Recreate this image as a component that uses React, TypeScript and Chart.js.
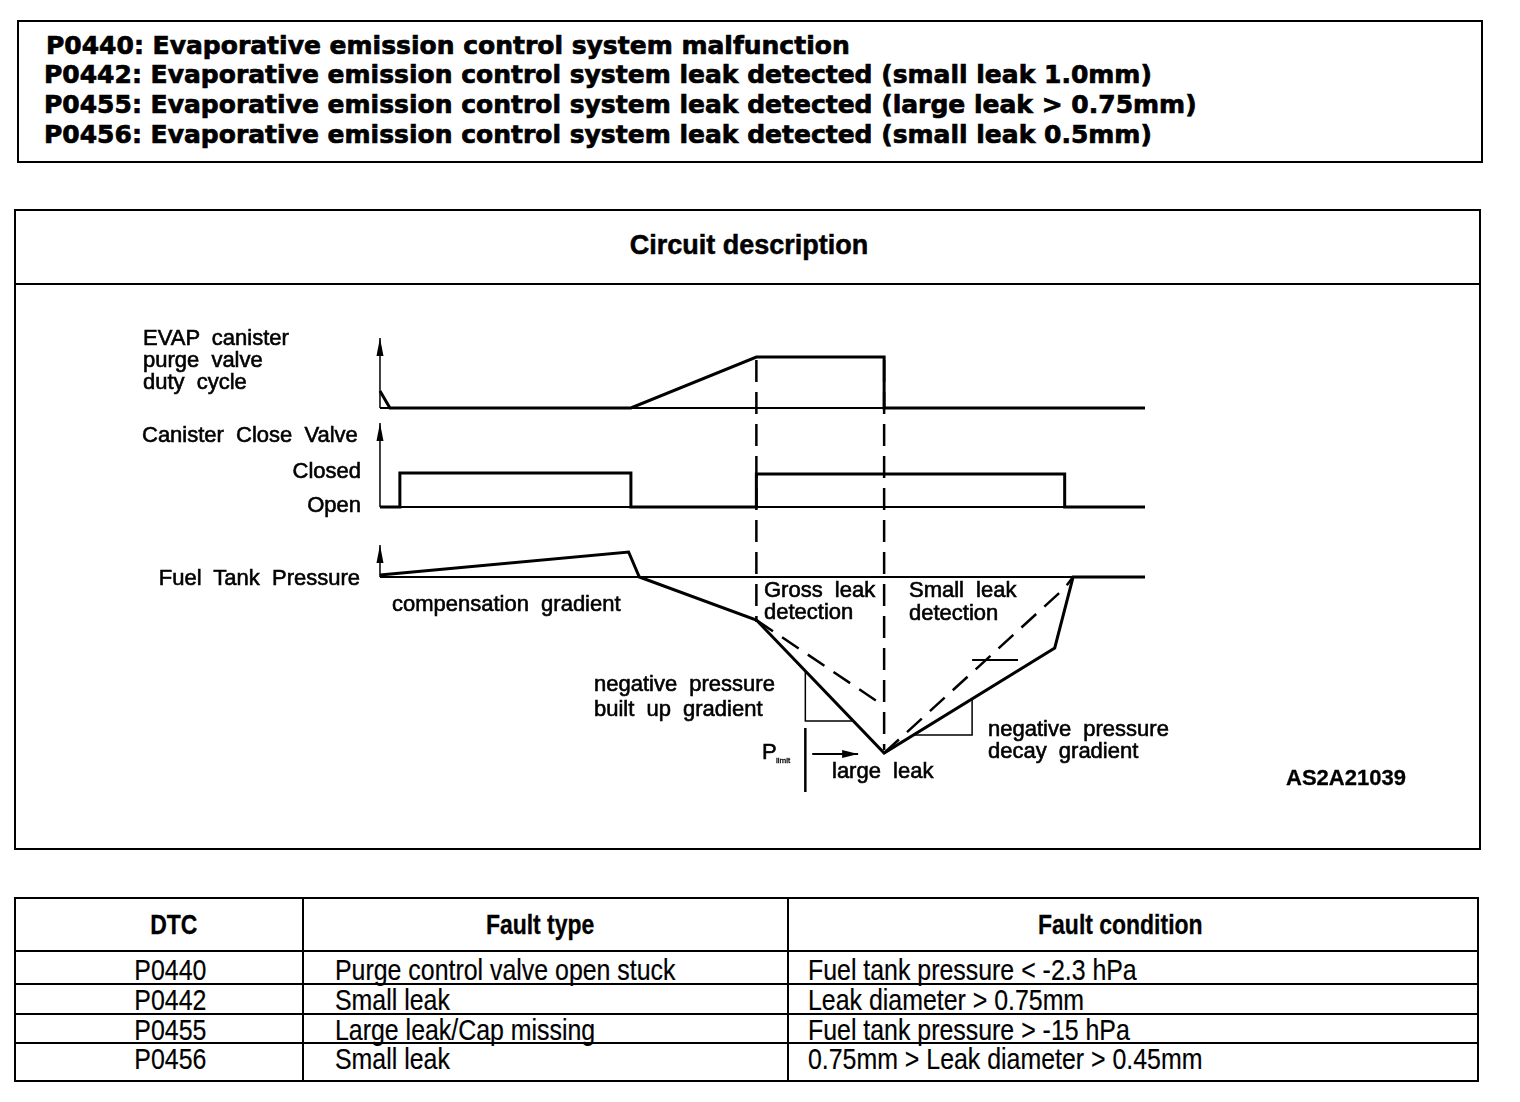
import React, { useEffect, useRef } from "react";
import { Chart, registerables } from "chart.js";
Chart.register(...registerables);

// ---------- DATA (time axis: 0 = signal axes, 100 = end of traces; level axis in arbitrary units) ----------
const headerLines = [
  "P0440: Evaporative emission control system malfunction",
  "P0442: Evaporative emission control system leak detected (small leak 1.0mm)",
  "P0455: Evaporative emission control system leak detected (large leak > 0.75mm)",
  "P0456: Evaporative emission control system leak detected (small leak 0.5mm)",
];

const timeStart = 0;
const timeEnd = 100;

// EVAP canister purge valve duty cycle
const purgeT = [0, 1.3, 32.8, 49.2, 65.9, 65.9, 100];
const purgeY = [45.8, 44.1, 44.1, 49.2, 49.2, 44.1, 44.1];
const purgeBase = 44.1;
const purgeAxisTop = 51.1;

// Canister close valve (Open / Closed)
const ccvT = [0, 2.6, 2.6, 32.8, 32.8, 49.2, 49.2, 89.5, 89.5, 100];
const ccvY = [34.2, 34.2, 37.6, 37.6, 34.2, 34.2, 37.5, 37.5, 34.2, 34.2];
const ccvBase = 34.2;
const ccvAxisTop = 42.6;

// Fuel tank pressure
const pressT = [0, 32.5, 33.9, 49.2, 65.9, 88.2, 90.6, 100];
const pressY = [27.4, 29.7, 27.2, 22.9, 9.6, 20.1, 27.2, 27.2];
const pressBase = 27.2;
const pressAxisTop = 30.4;
const grossDashT = [49.2, 65.9];
const grossDashY = [22.9, 14.3];
const smallDashT = [65.9, 89.5, 90.6];
const smallDashY = [9.6, 26.1, 27.2];

// phase markers (dashed verticals)
const phaseT = [49.2, 65.9];
const phaseTop = [48.9, 48.9];
const phaseBottom = [22.7, 9.9];

// gradient triangles / marks
const builtUpT = [55.6, 55.6, 61.7];
const builtUpY = [17.7, 12.8, 12.8];
const decayT = [69.7, 77.4, 77.4];
const decayY = [11.4, 11.4, 15.0];
const tickT = [77.4, 83.4];
const tickY = [18.9, 18.9];
const pLimitBarT = [55.6, 55.6];
const pLimitBarY = [12.1, 5.7];
const pLimitArrowT = [56.5, 62.5];
const pLimitArrowY = [9.5, 9.5];

// visible scale window
const xMin = -47.84;
const xMax = 143.79;
const yMin = 0;
const yMax = 56.4;

const tableHead = ["DTC", "Fault type", "Fault condition"];
const tableDTC = ["P0440", "P0442", "P0455", "P0456"];
const tableType = ["Purge control valve open stuck", "Small leak", "Large leak/Cap missing", "Small leak"];
const tableCond = [
  "Fuel tank pressure < -2.3 hPa",
  "Leak diameter > 0.75mm",
  "Fuel tank pressure > -15 hPa",
  "0.75mm > Leak diameter > 0.45mm",
];

// ---------- helpers ----------
const pts = (xs: number[], ys: number[]) => xs.map((x, i) => ({ x, y: ys[i] }));

function ds(data: { x: number; y: number }[], width = 3, dash: number[] = []) {
  return {
    data,
    showLine: true,
    borderColor: "#000",
    backgroundColor: "#000",
    borderWidth: width,
    borderDash: dash,
    pointRadius: 0,
    pointHoverRadius: 0,
    tension: 0,
    fill: false,
    borderJoinStyle: "miter" as const,
    borderCapStyle: "butt" as const,
  };
}

const arrowTips = [
  { x: timeStart, y: purgeAxisTop, dir: "up" },
  { x: timeStart, y: ccvAxisTop, dir: "up" },
  { x: timeStart, y: pressAxisTop, dir: "up" },
  { x: pLimitArrowT[1], y: pLimitArrowY[1], dir: "right" },
];

const arrowPlugin = {
  id: "arrowheads",
  afterDatasetsDraw(chart: any) {
    const { ctx, scales } = chart;
    ctx.save();
    ctx.fillStyle = "#000";
    arrowTips.forEach((a) => {
      const px = scales.x.getPixelForValue(a.x);
      const py = scales.y.getPixelForValue(a.y);
      ctx.beginPath();
      if (a.dir === "up") {
        ctx.moveTo(px, py);
        ctx.lineTo(px + 3.5, py + 18);
        ctx.lineTo(px - 3.5, py + 18);
      } else {
        ctx.moveTo(px, py);
        ctx.lineTo(px - 16, py - 4);
        ctx.lineTo(px - 16, py + 4);
      }
      ctx.closePath();
      ctx.fill();
    });
    ctx.restore();
  },
};

function Diagram() {
  const ref = useRef<HTMLCanvasElement>(null);
  useEffect(() => {
    if (!ref.current) return;
    const datasets: any[] = [
      ds(pts([timeStart, timeEnd], [purgeBase, purgeBase]), 2),
      ds(pts([timeStart, timeEnd], [ccvBase, ccvBase]), 2),
      ds(pts([timeStart, timeEnd], [pressBase, pressBase]), 2),
      ds(pts([timeStart, timeStart], [purgeBase, purgeAxisTop]), 1.5),
      ds(pts([timeStart, timeStart], [ccvBase, ccvAxisTop]), 1.5),
      ds(pts([timeStart, timeStart], [pressBase, pressAxisTop]), 1.5),
      ds(pts(purgeT, purgeY), 3),
      ds(pts(ccvT, ccvY), 3),
      ds(pts(pressT, pressY), 3),
      ds(pts(grossDashT, grossDashY), 2.5, [20, 11]),
      ds(pts(smallDashT, smallDashY), 2.5, [20, 11]),
      ...phaseT.map((t, i) => ds(pts([t, t], [phaseTop[i], phaseBottom[i]]), 2.5, [22, 10])),
      ds(pts(builtUpT, builtUpY), 1.5),
      ds(pts(decayT, decayY), 1.5),
      ds(pts(tickT, tickY), 2),
      ds(pts(pLimitBarT, pLimitBarY), 2.5),
      ds(pts(pLimitArrowT, pLimitArrowY), 2),
    ];
    const chart = new Chart(ref.current, {
      type: "scatter",
      data: { datasets },
      options: {
        animation: false,
        responsive: false,
        maintainAspectRatio: false,
        layout: { padding: 0 },
        events: [],
        plugins: { legend: { display: false }, tooltip: { enabled: false } },
        scales: {
          x: { type: "linear", min: xMin, max: xMax, display: false },
          y: { type: "linear", min: yMin, max: yMax, display: false },
        },
      },
      plugins: [arrowPlugin],
    });
    return () => chart.destroy();
  }, []);
  return (
    <canvas
      ref={ref}
      width={1466}
      height={564}
      style={{ position: "absolute", left: 14, top: 285, width: 1466, height: 564 }}
    />
  );
}

const lbl: React.CSSProperties = {
  position: "absolute",
  fontFamily: "'Liberation Sans', Arial, sans-serif",
  fontSize: 22,
  lineHeight: "22px",
  wordSpacing: 6,
  whiteSpace: "nowrap",
  color: "#000",
  WebkitTextStroke: "0.6px #000",
};

function L({ x, y, right, children, style }: any) {
  const s: React.CSSProperties = { ...lbl, top: y - 11, ...style };
  if (right !== undefined) {
    s.right = 1520 - right;
  } else s.left = x;
  return <div style={s}>{children}</div>;
}

const tableFont = "'Liberation Sans', Arial, sans-serif";

function Cell({ x, y, center, bold, children }: any) {
  const size = bold ? 28 : 30;
  const outer: React.CSSProperties = {
    position: "absolute",
    top: y - size / 2,
    whiteSpace: "nowrap",
    fontFamily: tableFont,
    fontWeight: bold ? 700 : 400,
    fontSize: size,
    lineHeight: `${size}px`,
    color: "#000",
    ...(center ? { left: x - 250, width: 500, textAlign: "center" } : { left: x }),
  };
  return (
    <div style={outer}>
      <span
        style={{
          display: "inline-block",
          transform: `scaleX(${bold ? 0.82 : 0.83})`,
          transformOrigin: center ? "center" : "left",
          WebkitTextStroke: bold ? "0.3px #000" : "0.2px #000",
        }}
      >
        {children}
      </span>
    </div>
  );
}

export default function App() {
  const hLines = [951, 984, 1014, 1043];
  const rowCenters = [970, 1000, 1030, 1059];
  const headCenters = [174, 540, 1120];
  return (
    <div style={{ position: "absolute", left: 0, top: 0, width: 1520, height: 1102, background: "#fff", overflow: "hidden" }}>
      {/* header box */}
      <div style={{ position: "absolute", left: 17, top: 20, width: 1466, height: 143, border: "2px solid #000", boxSizing: "border-box" }} />
      {headerLines.map((t, i) => (
        <div
          key={i}
          style={{
            position: "absolute",
            left: i === 0 ? 46 : 44,
            top: 45 + i * 29.7 - 14.5,
            fontFamily: "'DejaVu Sans', sans-serif",
            fontWeight: 700,
            fontSize: 25,
            lineHeight: "30px",
            whiteSpace: "nowrap",
            color: "#000",
            WebkitTextStroke: "0.7px #000",
          }}
        >
          {t}
        </div>
      ))}

      {/* circuit description box */}
      <div style={{ position: "absolute", left: 14, top: 209, width: 1467, height: 641, border: "2px solid #000", boxSizing: "border-box" }} />
      <div style={{ position: "absolute", left: 14, top: 283, width: 1467, height: 2, background: "#000" }} />
      <div
        style={{
          position: "absolute",
          left: 549,
          width: 400,
          top: 232,
          textAlign: "center",
          fontFamily: "'Liberation Sans', Arial, sans-serif",
          fontWeight: 700,
          fontSize: 27,
          lineHeight: "27px",
          color: "#000",
          WebkitTextStroke: "0.5px #000",
        }}
      >
        Circuit description
      </div>

      <Diagram />

      <L x={143} y={338}>EVAP canister</L>
      <L x={143} y={360}>purge valve</L>
      <L x={143} y={382}>duty cycle</L>
      <L x={142} y={435}>Canister Close Valve</L>
      <L right={361} y={471}>Closed</L>
      <L right={361} y={505}>Open</L>
      <L right={360} y={578}>Fuel Tank Pressure</L>
      <L x={392} y={604}>compensation gradient</L>
      <L x={764} y={590}>Gross leak</L>
      <L x={764} y={612}>detection</L>
      <L x={909} y={590}>Small leak</L>
      <L x={909} y={613}>detection</L>
      <L x={594} y={684}>negative pressure</L>
      <L x={594} y={709}>built up gradient</L>
      <L x={762} y={752}>P</L>
      <L x={776} y={760} style={{ fontSize: 8, lineHeight: "8px", top: 757, WebkitTextStroke: "0.3px #000" }}>limit</L>
      <L x={832} y={771}>large leak</L>
      <L x={988} y={729}>negative pressure</L>
      <L x={988} y={751}>decay gradient</L>
      <L x={1286} y={778} style={{ fontWeight: 700, WebkitTextStroke: "0.3px #000" }}>AS2A21039</L>

      {/* table */}
      <div style={{ position: "absolute", left: 14, top: 897, width: 1465, height: 185, border: "2px solid #000", boxSizing: "border-box" }} />
      {[303, 788].map((x) => (
        <div key={x} style={{ position: "absolute", left: x - 1, top: 897, width: 2, height: 185, background: "#000" }} />
      ))}
      {hLines.map((y) => (
        <div key={y} style={{ position: "absolute", left: 14, top: y - 1, width: 1465, height: 2, background: "#000" }} />
      ))}
      {tableHead.map((h, i) => (
        <Cell key={h} x={headCenters[i]} y={925} center bold>{h}</Cell>
      ))}
      {tableDTC.map((d, i) => (
        <React.Fragment key={i}>
          <Cell x={170} y={rowCenters[i]} center>{d}</Cell>
          <Cell x={335} y={rowCenters[i]}>{tableType[i]}</Cell>
          <Cell x={808} y={rowCenters[i]}>{tableCond[i]}</Cell>
        </React.Fragment>
      ))}
    </div>
  );
}
